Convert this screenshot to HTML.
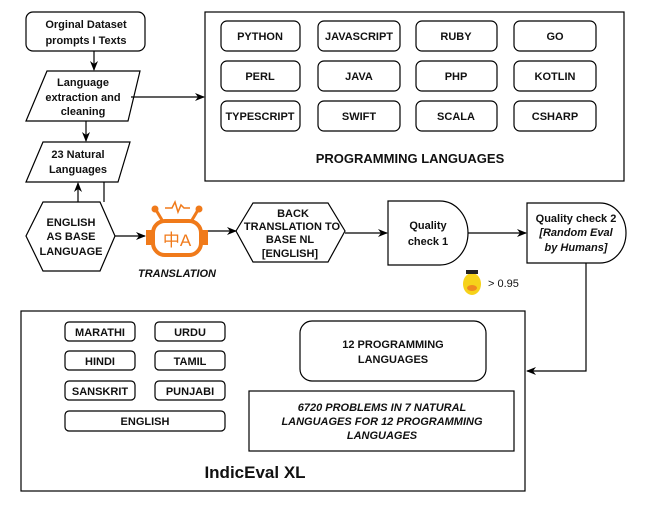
<!DOCTYPE html>
<html><head><style>
body{margin:0;background:#fff;}
svg text{font-family:"Liberation Sans",Arial,Helvetica,sans-serif;font-weight:bold;font-size:11px;fill:#111;}
</style></head><body>
<svg width="649" height="508" viewBox="0 0 649 508" xmlns="http://www.w3.org/2000/svg" font-family="Liberation Sans, Arial, sans-serif">
<defs><marker id="a" markerWidth="10" markerHeight="8" refX="9" refY="4" orient="auto" markerUnits="userSpaceOnUse"><path d="M0,0 L10,4 L0,8 L3,4 Z" fill="#000"/></marker></defs>
<g fill="#fff" stroke="#000" stroke-width="1.2">
<rect x="26" y="12" width="119" height="39" rx="7"/>
<polygon points="47,71 140,71 128,121 26,121"/>
<polygon points="43,142 130,142 118,182 26,182"/>
<polygon points="26,236 43,202 100,202 115,236 100,271 43,271"/>
<polygon points="236,231 253,203 328,203 345,231 328,262 253,262"/>
<path d="M388,201 H440 A28,32 0 0 1 468,233 A28,32 0 0 1 440,265 H388 Z"/>
<path d="M527,203 H600 A26,30 0 0 1 626,233 A26,30 0 0 1 600,263 H527 Z"/>
<rect x="205" y="12" width="419" height="169"/>
<rect x="221" y="21" width="79" height="30" rx="6"/><rect x="318" y="21" width="82" height="30" rx="6"/><rect x="416" y="21" width="81" height="30" rx="6"/><rect x="514" y="21" width="82" height="30" rx="6"/>
<rect x="221" y="61" width="79" height="30" rx="6"/><rect x="318" y="61" width="82" height="30" rx="6"/><rect x="416" y="61" width="81" height="30" rx="6"/><rect x="514" y="61" width="82" height="30" rx="6"/>
<rect x="221" y="101" width="79" height="30" rx="6"/><rect x="318" y="101" width="82" height="30" rx="6"/><rect x="416" y="101" width="81" height="30" rx="6"/><rect x="514" y="101" width="82" height="30" rx="6"/>
<rect x="21" y="311" width="504" height="180"/>
<rect x="65" y="322" width="70" height="19" rx="4"/><rect x="155" y="322" width="70" height="19" rx="4"/>
<rect x="65" y="351" width="70" height="19" rx="4"/><rect x="155" y="351" width="70" height="19" rx="4"/>
<rect x="65" y="381" width="70" height="19" rx="4"/><rect x="155" y="381" width="70" height="19" rx="4"/>
<rect x="65" y="411" width="160" height="20" rx="4"/>
<rect x="300" y="321" width="186" height="60" rx="12"/>
<rect x="249" y="391" width="265" height="60"/>
</g>
<g fill="none" stroke="#000" stroke-width="1.2" marker-end="url(#a)">
<line x1="94" y1="51" x2="94" y2="70"/>
<line x1="86" y1="121" x2="86" y2="141"/>
<line x1="131" y1="97" x2="204" y2="97"/>
<line x1="78" y1="202" x2="78" y2="183"/>
<line x1="115" y1="236" x2="145" y2="236"/>
<line x1="205" y1="231" x2="236" y2="231"/>
<line x1="345" y1="233" x2="387" y2="233"/>
<line x1="468" y1="233" x2="526" y2="233"/>
<polyline points="586,263 586,371 527,371"/>
</g>
<line x1="104" y1="202" x2="104" y2="182" stroke="#000" stroke-width="1.2"/>
<g stroke="#f07a1a" fill="none" stroke-width="4">
<rect x="153" y="221" width="48" height="34" rx="12"/>
<line x1="162" y1="220" x2="156" y2="210" stroke-width="3"/><line x1="192" y1="220" x2="198" y2="210" stroke-width="3"/>
<polyline points="165,208 172,208 175,202 178,212 181,205 184,208 190,208" stroke-width="1.5"/>
</g>
<circle cx="155" cy="209" r="3.5" fill="#f07a1a"/><circle cx="199" cy="209" r="3.5" fill="#f07a1a"/>
<rect x="146" y="230" width="7" height="15" fill="#f07a1a"/><rect x="201" y="230" width="7" height="15" fill="#f07a1a"/>
<text x="177" y="246" text-anchor="middle" style="font-size:17px;font-weight:normal;fill:#f07a1a;font-family:'Liberation Sans','Noto Sans CJK SC',sans-serif">中A</text>
<ellipse cx="472" cy="284" rx="9" ry="11" fill="#f6d21a"/>
<ellipse cx="472" cy="288" rx="5" ry="3" fill="#f08a20"/>
<rect x="466" y="270" width="12" height="4" fill="#222"/>
<text x="488" y="287" style="font-weight:normal;font-size:11px">&gt; 0.95</text>
<g text-anchor="middle">
<text x="86" y="28">Orginal Dataset</text><text x="86" y="44">prompts I Texts</text>
<text x="83" y="86">Language</text><text x="83" y="101">extraction and</text><text x="83" y="115">cleaning</text>
<text x="78" y="158">23 Natural</text><text x="78" y="173">Languages</text>
<text x="71" y="226">ENGLISH</text><text x="71" y="240">AS BASE</text><text x="71" y="255">LANGUAGE</text>
<text x="177" y="277" style="font-style:italic">TRANSLATION</text>
<text x="293" y="217">BACK</text><text x="292" y="230">TRANSLATION TO</text><text x="290" y="243">BASE NL</text><text x="290" y="257">[ENGLISH]</text>
<text x="428" y="229">Quality</text><text x="428" y="245">check 1</text>
<text x="576" y="222">Quality check 2</text><text x="576" y="236" style="font-style:italic">[Random Eval</text><text x="576" y="251" style="font-style:italic">by Humans]</text>
<text x="260" y="40">PYTHON</text><text x="359" y="40">JAVASCRIPT</text><text x="456" y="40">RUBY</text><text x="555" y="40">GO</text>
<text x="260" y="80">PERL</text><text x="359" y="80">JAVA</text><text x="456" y="80">PHP</text><text x="555" y="80">KOTLIN</text>
<text x="260" y="120">TYPESCRIPT</text><text x="359" y="120">SWIFT</text><text x="456" y="120">SCALA</text><text x="555" y="120">CSHARP</text>
<text x="410" y="163" style="font-size:13px">PROGRAMMING LANGUAGES</text>
<text x="100" y="336">MARATHI</text><text x="190" y="336">URDU</text>
<text x="100" y="365">HINDI</text><text x="190" y="365">TAMIL</text>
<text x="100" y="395">SANSKRIT</text><text x="190" y="395">PUNJABI</text>
<text x="145" y="425">ENGLISH</text>
<text x="393" y="348">12 PROGRAMMING</text><text x="393" y="363">LANGUAGES</text>
<text x="382" y="411" style="font-style:italic">6720 PROBLEMS IN 7 NATURAL</text><text x="382" y="425" style="font-style:italic">LANGUAGES FOR 12 PROGRAMMING</text><text x="382" y="439" style="font-style:italic">LANGUAGES</text>
<text x="255" y="478" style="font-size:17px">IndicEval XL</text>
</g>
</svg>
</body></html>
